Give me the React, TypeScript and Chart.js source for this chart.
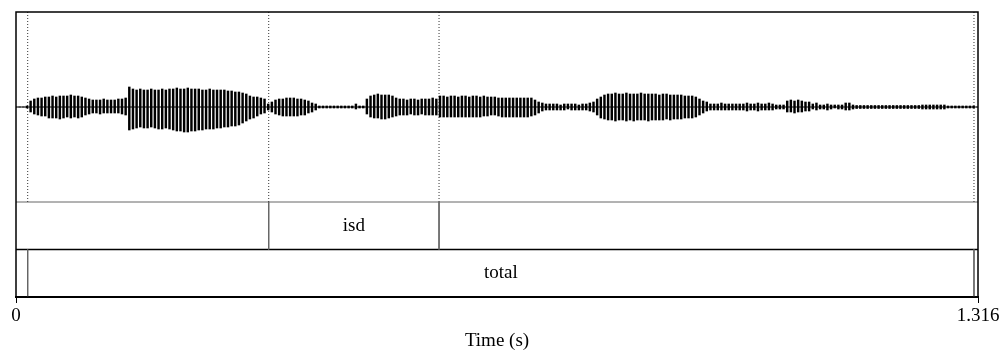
import React, { useEffect, useRef } from 'react';
import { Chart, registerables } from 'chart.js';

Chart.register(...registerables);

// ---- data ----
const DURATION = 1.316; // seconds
const SAMPLE_STEP = 0.005; // seconds between envelope readings

// upper envelope of the waveform (relative amplitude, full scale = 0.95)
const waveUpper = [
  0, 0, 0, 0.01,
  0.06, 0.08, 0.09, 0.09, 0.10, 0.10,
  0.11, 0.10, 0.11, 0.11, 0.11, 0.12, 0.11, 0.11, 0.10,
  0.09, 0.08, 0.07, 0.07, 0.07, 0.08, 0.07, 0.07, 0.07, 0.08, 0.08, 0.09,
  0.20, 0.18, 0.17, 0.18, 0.17, 0.17, 0.18, 0.17, 0.17, 0.18, 0.17, 0.18, 0.18, 0.19, 0.18, 0.18, 0.19, 0.18, 0.18, 0.18,
  0.17, 0.17, 0.18, 0.17, 0.17, 0.17, 0.17, 0.16, 0.16, 0.15, 0.15, 0.14, 0.13, 0.11, 0.10, 0.10, 0.09, 0.08,
  0.03,
  0.05, 0.07, 0.08, 0.08, 0.09, 0.09, 0.09, 0.08, 0.08, 0.07, 0.06, 0.04, 0.03,
  0.01, 0.01, 0.01, 0.01, 0.01, 0.01, 0.01, 0.01, 0.01, 0.01, 0.03, 0.01, 0.01,
  0.08, 0.11, 0.12, 0.13, 0.12, 0.12, 0.12, 0.11, 0.09, 0.08,
  0.08, 0.07, 0.08, 0.08, 0.07, 0.08, 0.08, 0.08, 0.09, 0.08,
  0.11, 0.11, 0.10, 0.11, 0.11, 0.10, 0.11, 0.11, 0.10, 0.11, 0.11, 0.10, 0.11, 0.10, 0.10, 0.10, 0.09,
  0.09, 0.09, 0.09, 0.09, 0.09, 0.09, 0.09, 0.09, 0.09, 0.07,
  0.05, 0.04, 0.03, 0.03, 0.03, 0.03, 0.02, 0.03, 0.03, 0.03, 0.03, 0.02, 0.03, 0.03, 0.04,
  0.05, 0.08, 0.10, 0.12,
  0.13, 0.13, 0.14, 0.13, 0.13, 0.14, 0.13, 0.13, 0.13, 0.14, 0.13, 0.13, 0.13, 0.13, 0.12, 0.13, 0.13, 0.12, 0.12, 0.12, 0.12, 0.11, 0.11, 0.11,
  0.10, 0.08, 0.06, 0.05,
  0.03, 0.03, 0.03, 0.04, 0.03, 0.03, 0.03, 0.03, 0.03, 0.03, 0.04, 0.03, 0.03, 0.04, 0.03, 0.03, 0.04, 0.03, 0.02, 0.02, 0.02,
  0.06, 0.07, 0.06, 0.07, 0.06, 0.05, 0.05,
  0.03, 0.04, 0.02, 0.02, 0.03, 0.02, 0.02, 0.02, 0.02, 0.04, 0.04, 0.02,
  0.015, 0.015, 0.015, 0.015, 0.015, 0.015, 0.015, 0.015, 0.015, 0.015, 0.015, 0.015, 0.015, 0.015, 0.015, 0.015, 0.015, 0.015,
  0.02, 0.02, 0.02, 0.02, 0.02, 0.02, 0.02,
  0.01, 0.01, 0.01, 0.01, 0.01, 0.01, 0.01, 0.01,
  0,
];

// lower envelope of the waveform
const waveLower = [
  0, 0, 0, -0.01,
  -0.05, -0.07, -0.08, -0.09, -0.09, -0.11,
  -0.11, -0.11, -0.12, -0.11, -0.10, -0.11, -0.10, -0.11, -0.10,
  -0.08, -0.07, -0.06, -0.06, -0.07, -0.06, -0.06, -0.06, -0.06, -0.06, -0.07, -0.08,
  -0.23, -0.22, -0.21, -0.20, -0.21, -0.21, -0.20, -0.21, -0.22, -0.22, -0.21, -0.22, -0.23, -0.24, -0.24, -0.25, -0.25, -0.24, -0.24, -0.23,
  -0.23, -0.22, -0.22, -0.22, -0.21, -0.21, -0.20, -0.20, -0.19, -0.19, -0.18, -0.16, -0.14, -0.12, -0.11, -0.09, -0.07, -0.06,
  -0.03,
  -0.05, -0.07, -0.08, -0.09, -0.09, -0.09, -0.09, -0.09, -0.08, -0.08, -0.06, -0.05, -0.03,
  -0.01, -0.01, -0.01, -0.01, -0.01, -0.01, -0.01, -0.01, -0.01, -0.01, -0.02, -0.01, -0.01,
  -0.07, -0.10, -0.11, -0.11, -0.12, -0.12, -0.11, -0.10, -0.09, -0.08,
  -0.08, -0.08, -0.07, -0.08, -0.08, -0.07, -0.08, -0.08, -0.08, -0.08,
  -0.10, -0.10, -0.10, -0.10, -0.10, -0.10, -0.10, -0.10, -0.10, -0.10, -0.10, -0.10, -0.09, -0.09, -0.08, -0.08, -0.09,
  -0.10, -0.10, -0.10, -0.10, -0.10, -0.10, -0.10, -0.10, -0.09, -0.08,
  -0.06, -0.04, -0.03, -0.03, -0.03, -0.03, -0.03, -0.03, -0.02, -0.03, -0.03, -0.03, -0.03, -0.03, -0.04,
  -0.05, -0.08, -0.11, -0.12,
  -0.13, -0.13, -0.14, -0.13, -0.13, -0.14, -0.13, -0.14, -0.13, -0.13, -0.13, -0.14, -0.13, -0.13, -0.13, -0.13, -0.12, -0.13, -0.12, -0.12, -0.12, -0.11, -0.11, -0.11,
  -0.10, -0.08, -0.06, -0.04,
  -0.03, -0.03, -0.03, -0.03, -0.03, -0.03, -0.03, -0.03, -0.03, -0.03, -0.04, -0.03, -0.03, -0.04, -0.03, -0.03, -0.03, -0.03, -0.02, -0.02, -0.02,
  -0.05, -0.05, -0.06, -0.05, -0.05, -0.04, -0.04,
  -0.02, -0.03, -0.02, -0.02, -0.03, -0.02, -0.01, -0.02, -0.02, -0.03, -0.03, -0.02,
  -0.015, -0.015, -0.015, -0.015, -0.015, -0.015, -0.015, -0.015, -0.015, -0.015, -0.015, -0.015, -0.015, -0.015, -0.015, -0.015, -0.015, -0.015,
  -0.02, -0.02, -0.02, -0.02, -0.02, -0.02, -0.02,
  -0.01, -0.01, -0.01, -0.01, -0.01, -0.01, -0.01, -0.01,
  0,
];

// TextGrid tiers
const tier1Boundaries = [0.3457, 0.5787];
const tier1Labels = [{ start: 0.3457, end: 0.5787, text: 'isd' }];
const tier2Boundaries = [0.016, 1.3105];
const tier2Labels = [{ start: 0.016, end: 1.3105, text: 'total' }];

const xTickValues = [0, 1.316];
const xTickLabels = ['0', '1.316'];
const xTitle = 'Time (s)';

// vertical layout in value space: waveform ±0.95, then two tier rows
const WAVE_TOP = 0.95;
const WAVE_BOTTOM = -0.95;
const TIER1_BOTTOM = -1.425;
const TIER2_BOTTOM = -1.9;

const FONT = 'Liberation Serif';

function vLine(x: number, y0: number, y1: number, color: string, dash: number[] = [], width = 1) {
  return {
    type: 'line' as const,
    data: [{ x, y: y0 }, { x, y: y1 }],
    borderColor: color,
    borderWidth: width,
    borderDash: dash,
    pointRadius: 0,
    fill: false,
  };
}
function hLine(y: number, color: string, width = 1) {
  return {
    type: 'line' as const,
    data: [{ x: 0, y }, { x: DURATION, y }],
    borderColor: color,
    borderWidth: width,
    pointRadius: 0,
    fill: false,
  };
}

const framePlugin = {
  id: 'frameAndTierText',
  afterDatasetsDraw(chart: any) {
    const { ctx, chartArea, scales } = chart;
    const xs = scales.x;
    const ys = scales.y;
    ctx.save();
    ctx.fillStyle = '#000';
    ctx.font = `19px "${FONT}"`;
    ctx.textAlign = 'center';
    ctx.textBaseline = 'middle';
    const y1 = ys.getPixelForValue((WAVE_BOTTOM + TIER1_BOTTOM) / 2);
    tier1Labels.forEach((l) => {
      ctx.fillText(l.text, xs.getPixelForValue((l.start + l.end) / 2), y1);
    });
    const y2 = ys.getPixelForValue((TIER1_BOTTOM + TIER2_BOTTOM) / 2);
    tier2Labels.forEach((l) => {
      ctx.fillText(l.text, xs.getPixelForValue((l.start + l.end) / 2), y2);
    });
    ctx.strokeStyle = '#000';
    ctx.lineWidth = 1.5;
    ctx.strokeRect(chartArea.left, chartArea.top, chartArea.right - chartArea.left, chartArea.bottom - chartArea.top);
    ctx.restore();
  },
};

export default function App() {
  const ref = useRef<HTMLCanvasElement>(null);
  useEffect(() => {
    if (!ref.current) return;
    const waveData = waveUpper.map((u, i) => ({ x: i * SAMPLE_STEP, y: [waveLower[i], u] }));
    const datasets: any[] = [
      hLine(0, '#000', 1),
      {
        type: 'bar',
        data: waveData,
        backgroundColor: '#000',
        borderWidth: 0,
        barThickness: 1.8,
        grouped: false,
      },
      ...[...tier2Boundaries, ...tier1Boundaries].map((b) => vLine(b, WAVE_TOP, WAVE_BOTTOM, '#333', [1, 2], 1)),
      ...tier1Boundaries.map((b) => vLine(b, WAVE_BOTTOM, TIER1_BOTTOM, '#666', [], 1)),
      ...tier2Boundaries.map((b) => vLine(b, TIER1_BOTTOM, TIER2_BOTTOM, '#666', [], 1)),
      hLine(WAVE_BOTTOM, '#666', 1),
      hLine(TIER1_BOTTOM, '#000', 1.5),
    ];
    const chart = new Chart(ref.current, {
      type: 'bar',
      data: { datasets },
      options: {
        animation: false,
        responsive: false,
        devicePixelRatio: 1,
        layout: { padding: { left: 16, right: 27, top: 12, bottom: 0 } },
        plugins: { legend: { display: false }, tooltip: { enabled: false } },
        scales: {
          x: {
            type: 'linear',
            min: 0,
            max: DURATION,
            offset: false,
            afterBuildTicks: (s: any) => {
              s.ticks = xTickValues.map((v) => ({ value: v }));
            },
            afterFit: (s: any) => {
              s.height = 57;
            },
            ticks: {
              autoSkip: false,
              maxRotation: 0,
              minRotation: 0,
              color: '#000',
              padding: 2,
              font: { family: FONT, size: 19 },
              callback: (_v: any, i: number) => xTickLabels[i],
            },
            grid: { display: true, drawOnChartArea: false, drawTicks: true, tickLength: 6, color: '#000', lineWidth: 1, offset: false },
            border: { display: true, color: '#000', width: 2 },
            title: { display: true, text: xTitle, color: '#000', font: { family: FONT, size: 19 }, padding: { top: 0, bottom: 2 } },
          },
          y: { type: 'linear', min: TIER2_BOTTOM, max: WAVE_TOP, display: false },
        },
      } as any,
      plugins: [framePlugin],
    });
    return () => chart.destroy();
  }, []);
  return (
    <div style={{ position: 'absolute', left: 0, top: 0, width: 1005, height: 354, background: '#fff' }}>
      <canvas ref={ref} width={1005} height={354} style={{ display: 'block' }} />
    </div>
  );
}
